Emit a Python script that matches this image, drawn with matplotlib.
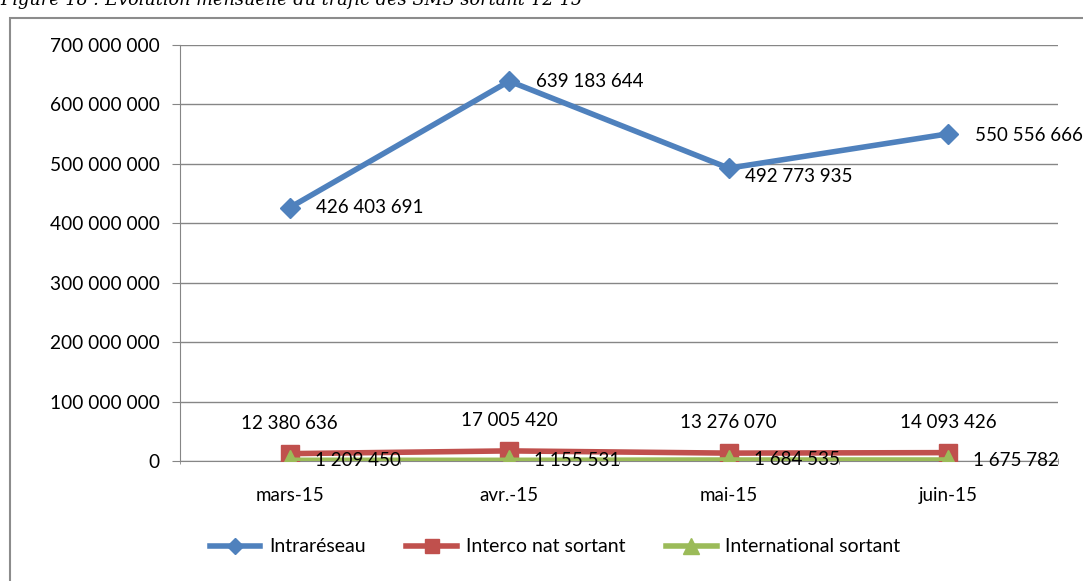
import matplotlib
matplotlib.use("Agg")
import matplotlib.pyplot as plt
from matplotlib.patches import Rectangle

categories = ["mars-15", "avr.-15", "mai-15", "juin-15"]
intrareseau = [426403691, 639183644, 492773935, 550556666]
interco = [12380636, 17005420, 13276070, 14093426]
international = [1209450, 1155531, 1684535, 1675782]
series_names = ["Intraréseau", "Interco nat sortant", "International sortant"]
yticks = [0, 100000000, 200000000, 300000000, 400000000, 500000000, 600000000, 700000000]
title = "Figure 18 : Evolution mensuelle du trafic des SMS sortant T2-15"

def fmt(v):
    return f"{v:,}".replace(",", " ")

W, H = 1083, 581
plt.rcParams['font.family'] = ['Lato', 'DejaVu Sans']
fig = plt.figure(figsize=(W / 100, H / 100), dpi=100)

# outer chart border
fig.patches.append(Rectangle((10 / W, -0.01), 1.1, (H - 18) / H + 0.01,
                             transform=fig.transFigure, fill=False,
                             edgecolor="#8c8c8c", linewidth=1.5))
fig.text(0.0, 1 - 5 / H, title,
         family="DejaVu Serif", style="italic", fontsize=12.8, va="baseline", ha="left")

left, right = 180 / W, 1058 / W
bottom, top = 1 - 461 / H, 1 - 45 / H
ax = fig.add_axes([left, bottom, right - left, top - bottom])
x = list(range(len(categories)))
ax.set_xlim(-0.5, len(categories) - 0.5)
ax.set_ylim(0, 700000000)

FS = 13.5
ax.plot(x, intrareseau, color="#4f81bd", lw=4, marker="D", ms=10.5, label=series_names[0], zorder=3)
ax.plot(x, interco, color="#c0504d", lw=4, marker="s", ms=13, label=series_names[1], zorder=3)
ax.plot(x, international, color="#9bbb59", lw=4, marker="^", ms=15, label=series_names[2], zorder=4)

ax.set_yticks(yticks)
ax.set_yticklabels([fmt(v) for v in yticks], fontsize=13.8)
ax.grid(axis="y", color="#868686", lw=1)
ax.set_axisbelow(True)
ax.set_xticks(x)
ax.set_xticklabels(categories, fontsize=FS)
ax.set_xticks([i + 0.5 for i in range(-1, len(categories))], minor=True)
ax.tick_params(axis="x", which="major", length=0, pad=19)
ax.tick_params(axis="x", which="minor", length=5, direction="inout", color="#868686")
ax.tick_params(axis="y", length=5.5, color="#868686", pad=9)
for s in ["top", "right"]:
    ax.spines[s].set_visible(False)
ax.spines["left"].set_color("#868686")
ax.spines["bottom"].set_color("#868686")

offs_intra = [(19, 0), (19, 0), (12, -6), (19, -1.5)]
for i, v in enumerate(intrareseau):
    ax.annotate(fmt(v), (x[i], v), xytext=offs_intra[i], textcoords="offset points",
                fontsize=FS, ha="left", va="center", zorder=6)
for i, v in enumerate(interco):
    ax.annotate(fmt(v), (x[i], v), xytext=(0, 22), textcoords="offset points",
                fontsize=FS, ha="center", va="center", zorder=6)
for i, v in enumerate(international):
    ax.annotate(fmt(v), (x[i], v), xytext=(18, 0), textcoords="offset points",
                fontsize=FS, ha="left", va="center", zorder=6)

leg = fig.legend(loc="center", bbox_to_anchor=(555 / W, 1 - 547 / H), ncol=3, frameon=False,
                 fontsize=14, handlelength=2.6, columnspacing=2.1, handletextpad=0.45,
                 markerscale=0.8)

fig.savefig("out.png", dpi=100)
